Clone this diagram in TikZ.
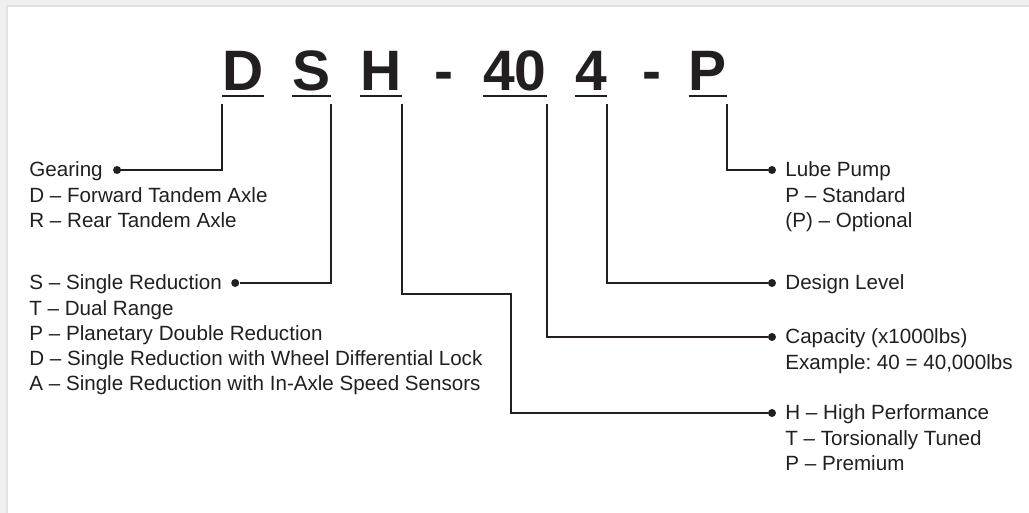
\documentclass[tikz,border=0pt]{standalone}
\usepackage{fontspec}
\setmainfont{Liberation Sans}
\usepackage{tikz}
\usetikzlibrary{positioning,calc}
\frenchspacing
\definecolor{ink}{RGB}{35,31,32}
\definecolor{pagegray}{RGB}{239,239,239}
\definecolor{shadegray}{RGB}{226,226,226}
\tikzset{
  code/.style={font=\fontsize{28.5}{30}\selectfont\bfseries,text=ink,
               inner sep=0pt,anchor=base},
  lbl/.style={font=\fontsize{10.3}{12.5}\selectfont,text=ink,
              inner sep=0pt,anchor=base west},
  opts/.style={lbl,align=left,anchor=north west,yshift=-3.75pt},
  dot/.style={circle,fill=ink,inner sep=0pt,minimum size=4pt},
  link/.style={draw=ink,line width=1pt},
  uline/.style={draw=ink,line width=1.2pt},
}

\begin{document}
\begin{tikzpicture}[x=0.5pt,y=-0.5pt]
\useasboundingbox (0,0) rectangle (1029,513);
\fill[pagegray] (0,0) rectangle (1029,513);
\fill[shadegray] (6,5) rectangle (1029,513);
\fill[white] (8,7) rectangle (1029,513);

% model code
\node[code] (cD) at (243,91) {D};
\node[code] (cS) at (311.5,91) {S};
\node[code] (cH) at (381,91) {H};
\node[code] (dash1) at (444,91) {-};
\node[code] (cCap) at (515,91) {40};
\node[code] (cLvl) at (591,91) {4};
\node[code] (dash2) at (652,91) {-};
\node[code] (cP) at (708,91) {P};
\foreach \c in {cD,cS,cH,cCap,cLvl,cP}
  \draw[uline] ([yshift=-2.5pt]\c.base west) -- ([yshift=-2.5pt]\c.base east);

% left side
\node[lbl] (gear) at (29,177) {Gearing};
\node[opts] (gearopts) at (gear.base west)
  {\strut D – Forward Tandem Axle\\R – Rear Tandem Axle};
\node[dot] (gear-dot) at ([xshift=7pt,yshift=3.5pt]gear.base east) {};

\node[lbl] (red) at (29,290) {S – Single Reduction};
\node[opts] (redopts) at (red.base west)
  {\strut T – Dual Range\\P – Planetary Double Reduction\\
   D – Single Reduction with Wheel Differential Lock\\
   A – Single Reduction with In-Axle Speed Sensors};
\node[dot] (red-dot) at ([xshift=6.5pt,yshift=3.5pt]red.base east) {};

% right side
\node[lbl] (lube) at (785,177) {Lube Pump};
\node[opts] (lubeopts) at (lube.base west) {\strut P – Standard\\(P) – Optional};
\node[lbl] (lvl) at (785,290) {Design Level};
\node[lbl] (cap) at (785,344) {Capacity (x1000lbs)};
\node[opts] (capopts) at (cap.base west) {\strut Example: 40 = 40,000lbs};
\node[lbl] (perf) at (785,420) {H – High Performance};
\node[opts] (perfopts) at (perf.base west) {\strut T – Torsionally Tuned\\P – Premium};
\foreach \n in {lube,lvl,cap,perf}
  \node[dot] (\n-dot) at ([xshift=-6.5pt,yshift=3.5pt]\n.base west) {};

\coordinate (hBend) at (511,294);
\draw[link] ([yshift=-6.5pt]cD.base west) |- (gear-dot);
\draw[link] ([yshift=-6.5pt]cS.base east) |- (red-dot);
\draw[link] ([yshift=-6.5pt]cH.base east) |- (hBend) |- (perf-dot);
\draw[link] ([yshift=-6.5pt]cCap.base east) |- (cap-dot);
\draw[link] ([yshift=-6.5pt]cLvl.base east) |- (lvl-dot);
\draw[link] ([yshift=-6.5pt]cP.base east) |- (lube-dot);
\end{tikzpicture}
\end{document}
